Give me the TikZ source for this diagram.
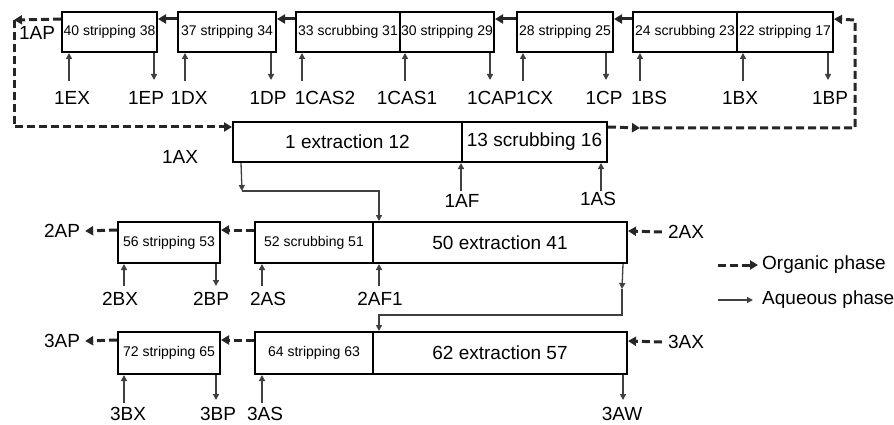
\documentclass[tikz,border=0pt]{standalone}
\usepackage{fontspec}
\setmainfont{Liberation Sans}
\usetikzlibrary{arrows.meta,calc}
\begin{document}
\begin{tikzpicture}[x=1pt,y=-1pt,
  box/.style={draw=black,line width=2pt,inner sep=0pt,minimum height=40pt,font=\fontsize{14}{14}\selectfont},
  bigbox/.style={box,font=\fontsize{19}{19}\selectfont},
  org/.style={line width=3pt,draw=black!85,dash pattern=on 8pt off 4pt,-{Triangle[length=8pt,width=9pt]}},
  orgsolid/.style={line width=3pt,draw=black!85,-{Triangle[length=8pt,width=9pt]}},
  aqline/.style={line width=1.3pt,draw=black!75},
  aq/.style={aqline,-{Triangle[length=6pt,width=6pt]}},
  lbl/.style={inner sep=0pt,font=\fontsize{19}{19}\selectfont}
]
\useasboundingbox (0,0) rectangle (894,425);

% top row
\node[box,minimum width=95pt] (A) at (109.5,32) {40 stripping 38};
\node[box,minimum width=98pt] (B) at (227,32) {37 stripping 34};
\node[box,minimum width=104pt] (C1) at (348,32) {33 scrubbing 31};
\node[box,minimum width=94pt] (C2) at (447,32) {30 stripping 29};
\node[box,minimum width=96pt] (D) at (565,32) {28 stripping 25};
\node[box,minimum width=104pt] (E1) at (685,32) {24 scrubbing 23};
\node[box,minimum width=96pt] (E2) at (785,32) {22 stripping 17};

% middle
\node[bigbox,minimum width=229pt] (M1) at (347.5,142) {1 extraction 12};
\node[bigbox,minimum width=145pt] (M2) at (534.5,142) {13 scrubbing 16};

% row 2
\node[box,minimum width=102pt,minimum height=41pt] (R2a) at (169,242.5) {56 stripping 53};
\node[box,minimum width=118pt,minimum height=41pt] (R2b1) at (314,242.5) {52 scrubbing 51};
\node[bigbox,minimum width=254pt,minimum height=41pt] (R2b2) at (500,242.5) {50 extraction 41};

% row 3
\node[box,minimum width=102pt,minimum height=42pt] (R3a) at (169,353) {72 stripping 65};
\node[box,minimum width=118pt,minimum height=42pt] (R3b1) at (314,353) {64 stripping 63};
\node[bigbox,minimum width=254pt,minimum height=42pt] (R3b2) at (500,353) {62 extraction 57};

% labels top
\node[lbl] (l1AP) at (37,33) {1AP};
\node[lbl] (l1EX) at (72,98) {1EX};
\node[lbl] (l1EP) at (146,98) {1EP};
\node[lbl] (l1DX) at (189,98) {1DX};
\node[lbl] (l1DP) at (268,98) {1DP};
\node[lbl] (l1CAS2) at (325,98) {1CAS2};
\node[lbl] (l1CAS1) at (407,98) {1CAS1};
\node[lbl,anchor=east] (l1CAP) at (517,98) {1CAP};
\node[lbl,anchor=west] (l1CX) at (516,98) {1CX};
\node[lbl] (l1CP) at (604,98) {1CP};
\node[lbl] (l1BS) at (649,98) {1BS};
\node[lbl] (l1BX) at (740,98) {1BX};
\node[lbl] (l1BP) at (830,98) {1BP};
\node[lbl] (l1AX) at (180,157) {1AX};
\node[lbl] (l1AF) at (462,201) {1AF};
\node[lbl] (l1AS) at (598,199) {1AS};
% labels row 2
\node[lbl] (l2AP) at (62,231) {2AP};
\node[lbl] (l2AX) at (686,232) {2AX};
\node[lbl] (l2BX) at (120,299) {2BX};
\node[lbl] (l2BP) at (211,299) {2BP};
\node[lbl] (l2AS) at (268,299) {2AS};
\node[lbl] (l2AF1) at (380,299) {2AF1};
% labels row 3
\node[lbl] (l3AP) at (62,341) {3AP};
\node[lbl] (l3AX) at (686,342) {3AX};
\node[lbl] (l3BX) at (128,414) {3BX};
\node[lbl] (l3BP) at (218,414) {3BP};
\node[lbl] (l3AS) at (265,414) {3AS};
\node[lbl] (l3AW) at (622,414) {3AW};

% top organic
\draw[orgsolid] ($(B.north west)+(0,8)$) -- ($(A.north east)+(0,8)$);
\draw[orgsolid] ($(C1.north west)+(0,8)$) -- ($(B.north east)+(0,8)$);
\draw[orgsolid] ($(D.north west)+(0,8)$) -- ($(C2.north east)+(0,8)$);
\draw[orgsolid] ($(E1.north west)+(0,8)$) -- ($(D.north east)+(0,8)$);
\coordinate (tl) at (14,20);
\draw[org] ($(A.north west)+(0,8)$) -- (tl);
\draw[org] (tl) |- ($(M1.north west)+(0,6)$);
\coordinate (mr) at (640,128);
\coordinate (tr) at (855,20);
\draw[org] ($(M2.north east)+(0,6)$) -- (mr);
\draw[org] (mr) -| (tr) -- ($(E2.north east)+(0,8)$);

% top feeds
\draw[aq] ($(A.south west)+(8,28)$) -- ($(A.south west)+(8,0)$);
\draw[aq] ($(A.south east)+(-4,0)$) -- ++(0,27);
\draw[aq] ($(B.south west)+(8,28)$) -- ($(B.south west)+(8,0)$);
\draw[aq] ($(B.south east)+(-6,0)$) -- ++(0,27);
\draw[aq] ($(C1.south west)+(7,28)$) -- ($(C1.south west)+(7,0)$);
\draw[aq] ($(C2.south west)+(6,28)$) -- ($(C2.south west)+(6,0)$);
\draw[aq] ($(C2.south east)+(-5,0)$) -- ++(0,27);
\draw[aq] ($(D.south west)+(7,28)$) -- ($(D.south west)+(7,0)$);
\draw[aq] ($(D.south east)+(-8,0)$) -- ++(0,27);
\draw[aq] ($(E1.south west)+(8,28)$) -- ($(E1.south west)+(8,0)$);
\draw[aq] ($(E2.south west)+(7,28)$) -- ($(E2.south west)+(7,0)$);
\draw[aq] ($(E2.south east)+(-6,0)$) -- ++(0,27);

% middle feeds
\draw[aq] ($(M2.south west)+(0,28)$) -- (M2.south west);
\draw[aq] ($(M2.south east)+(-7,28)$) -- ($(M2.south east)+(-7,0)$);
\coordinate (a1) at (242,191);
\draw[aq] ($(M1.south west)+(9,0)$) -- (a1);
\draw[aq] (a1) -| ($(R2b2.north west)+(7,0)$);

% row 2 organic
\draw[org] ($(R2b1.north west)+(0,9)$) -- ($(R2a.north east)+(0,9)$);
\draw[org] ($(R2a.north west)+(0,9)$) -- ([xshift=5pt]l2AP.east);
\draw[org] ([xshift=-6pt]l2AX.west) -- ($(R2b2.north east)+(0,10)$);
% row 2 feeds
\draw[aq] ($(R2a.south west)+(7,22)$) -- ($(R2a.south west)+(7,0)$);
\draw[aq] ($(R2a.south east)+(-5,0)$) -- ++(0,22);
\draw[aq] ($(R2b1.south west)+(8,22)$) -- ($(R2b1.south west)+(8,0)$);
\draw[aq] ($(R2b2.south west)+(7,22)$) -- ($(R2b2.south west)+(7,0)$);
\coordinate (a2) at (622,289);
\coordinate (a3) at (622,315);
\draw[aq] ($(R2b2.south east)+(-5,0)$) -- (a2);
\draw[aq] (a2) -- (a3) -| ($(R3b2.north west)+(7,0)$);

% row 3 organic
\draw[org] ($(R3b1.north west)+(0,9)$) -- ($(R3a.north east)+(0,9)$);
\draw[org] ($(R3a.north west)+(0,9)$) -- ([xshift=5pt]l3AP.east);
\draw[org] ([xshift=-6pt]l3AX.west) -- ($(R3b2.north east)+(0,10)$);
% row 3 feeds
\draw[aq] ($(R3a.south west)+(7,28)$) -- ($(R3a.south west)+(7,0)$);
\draw[aq] ($(R3a.south east)+(-5,0)$) -- ++(0,25);
\draw[aq] ($(R3b1.south west)+(8,28)$) -- ($(R3b1.south west)+(8,0)$);
\draw[aq] ($(R3b2.south east)+(-5,0)$) -- ++(0,25);

% legend
\node[lbl,anchor=west] (legO) at (762,265) {Organic phase};
\node[lbl,anchor=west] (legA) at (762,300) {Aqueous phase};
\coordinate (lo) at (718,265);
\coordinate (la) at (718,300);
\draw[org] (lo) -- ([xshift=-4pt]legO.west);
\draw[aq] (la) -- ([xshift=-9pt]legA.west);
\end{tikzpicture}
\end{document}
